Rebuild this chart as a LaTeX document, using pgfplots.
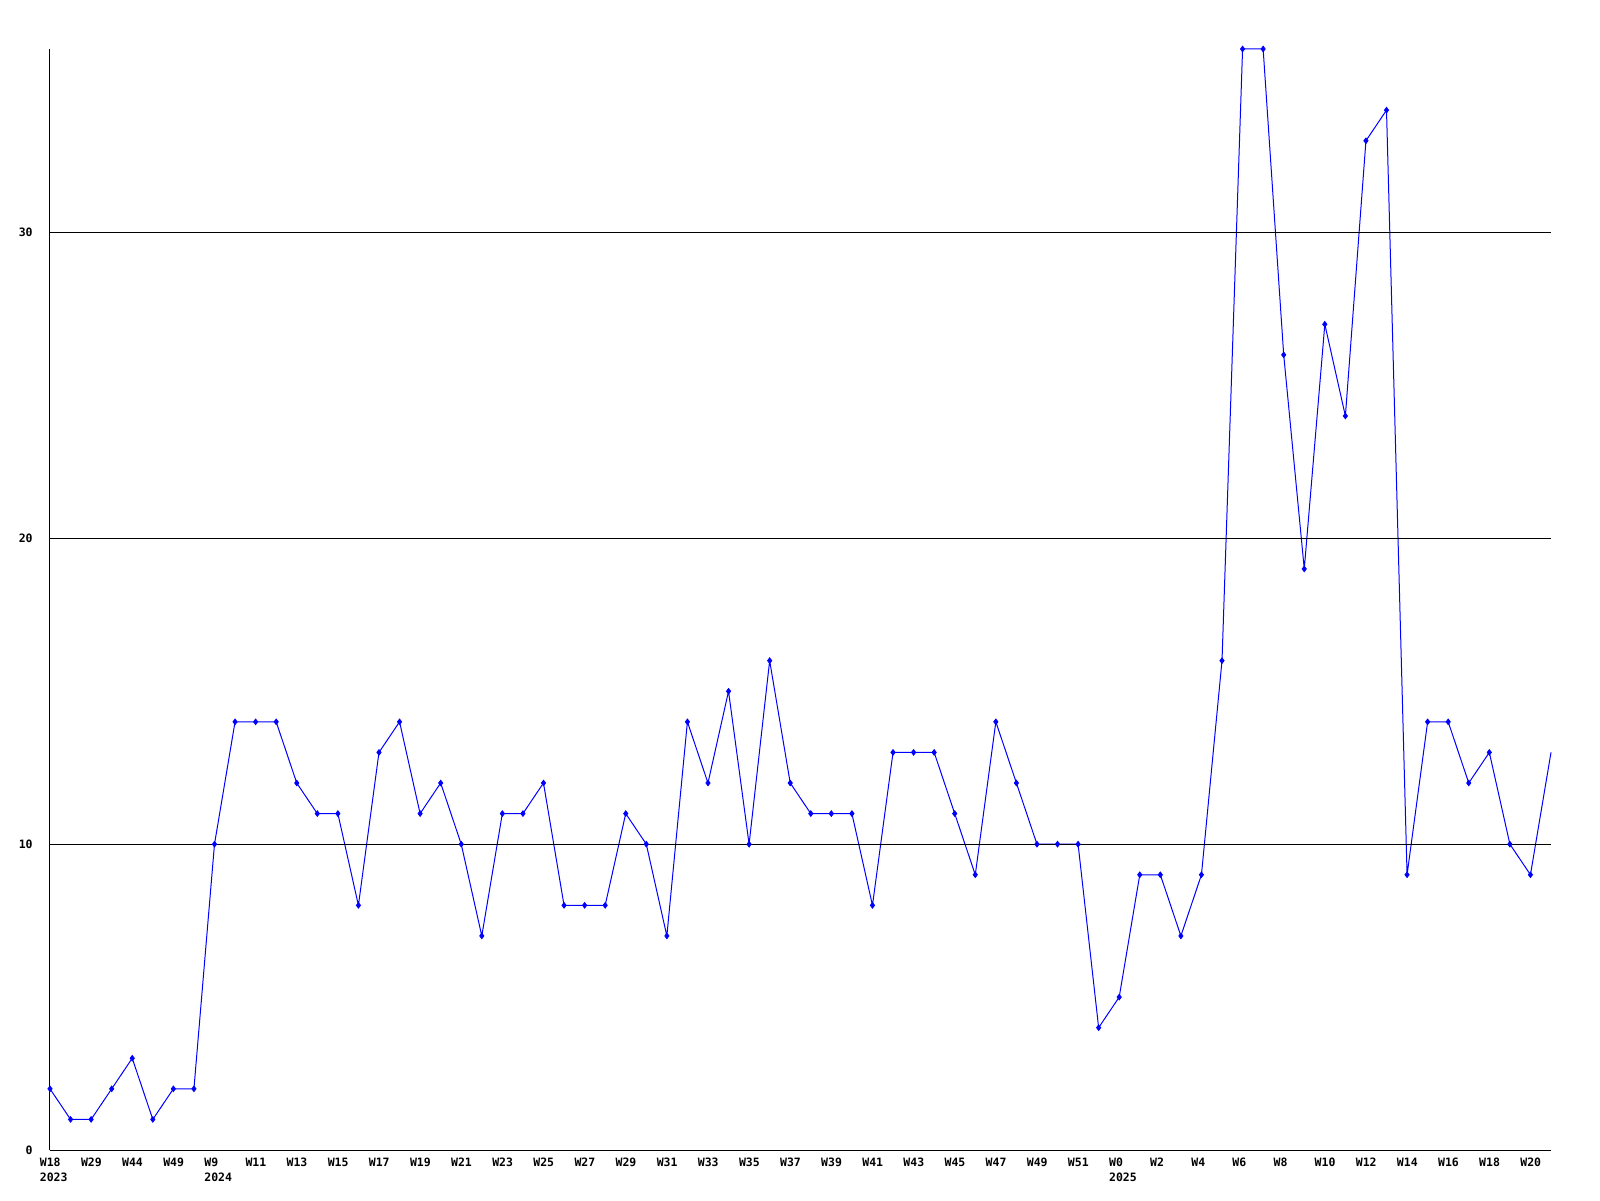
\documentclass[border=0pt]{standalone}
\usepackage{fontspec}
\setmonofont{DejaVu Sans Mono}
\usepackage{pgfplots}
\pgfplotsset{compat=1.18}
\usepackage{pgfplotstable}

\newcommand\lbl{\ttfamily\bfseries\fontsize{5.75}{7.5}\selectfont}

% weekly counts, one row per plotted week
\pgfplotstableread{
i v
0 2
1 1
2 1
3 2
4 3
5 1
6 2
7 2
8 10
9 14
10 14
11 14
12 12
13 11
14 11
15 8
16 13
17 14
18 11
19 12
20 10
21 7
22 11
23 11
24 12
25 8
26 8
27 8
28 11
29 10
30 7
31 14
32 12
33 15
34 10
35 16
36 12
37 11
38 11
39 11
40 8
41 13
42 13
43 13
44 11
45 9
46 14
47 12
48 10
49 10
50 10
51 4
52 5
53 9
54 9
55 7
56 9
57 16
58 36
59 36
60 26
61 19
62 27
63 24
64 33
65 34
66 9
67 14
68 14
69 12
70 13
71 10
72 9
73 13
}\weekly

\begin{document}
\begin{tikzpicture}
\path (0pt,0pt) rectangle (800pt,600pt);
\begin{axis}[
  at={(25pt,25pt)}, anchor=south west,
  scale only axis, width=750.5pt, height=550.5pt,
  xmin=0, xmax=73, ymin=0, ymax=36,
  enlargelimits=false, clip=false,
  axis lines*=left,
  axis line style={black, line width=0.5pt},
  axis on top,
  ymajorgrids,
  grid style={black, line width=0.5pt},
  major tick length=0pt,
  ytick={0,10,20,30},
  xtick={0,2,...,72},
  xticklabels={W18\\2023,W29,W44,W49,W9\\2024,W11,W13,W15,W17,W19,W21,W23,W25,W27,W29,W31,W33,W35,W37,W39,W41,W43,W45,W47,W49,W51,W0\\2025,W2,W4,W6,W8,W10,W12,W14,W16,W18,W20},
  /pgf/number format/assume math mode=true,
  xticklabel style={font=\lbl, align=left, anchor=north west, inner sep=0pt, xshift=-5.25pt, yshift=-4pt},
  yticklabel style={font=\lbl, anchor=east, inner sep=0pt, xshift=-8.5pt},
]
\addplot[blue, line width=0.5pt, no marks] table[x=i, y=v] {\weekly};
\addplot[blue, only marks, mark=diamond*, mark size=1.4pt,
  skip coords between index={73}{74}] table[x=i, y=v] {\weekly};
\end{axis}
\end{tikzpicture}
\end{document}
